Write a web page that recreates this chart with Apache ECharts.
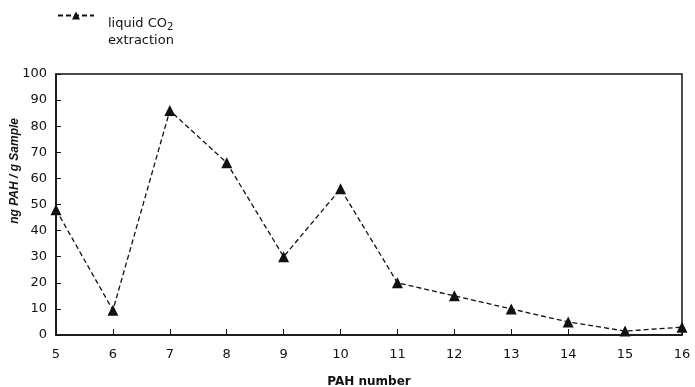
<!DOCTYPE html>
<html><head><meta charset="utf-8">
<script src="https://cdn.jsdelivr.net/npm/echarts@6/dist/echarts.min.js"></script>
<style>html,body{margin:0;padding:0;background:#fff}#c{width:695px;height:387px}</style>
</head><body><div id="c"></div>
<script>
const pahNumbers = [5, 6, 7, 8, 9, 10, 11, 12, 13, 14, 15, 16];
const liquidCO2 = [48, 9.5, 86, 66, 30, 56, 20, 15, 10, 5, 1.5, 3];
const yTicks = [0, 10, 20, 30, 40, 50, 60, 70, 80, 90, 100];

const font = '"DejaVu Sans", "Liberation Sans", Arial, sans-serif';
const font2 = '"Liberation Sans", Arial, sans-serif';
const chart = echarts.init(document.getElementById('c'));
chart.setOption({
  animation: false,
  backgroundColor: '#fff',
  grid: { left: 56, right: 13, top: 74, bottom: 52, containLabel: false, outerBoundsMode: 'none',
    show: true, borderColor: '#111', borderWidth: 1.5, backgroundColor: 'transparent' },
  legend: {
    left: 57, top: -18, padding: 0, itemWidth: 36, itemHeight: 10,
    data: ['liquid'],
    formatter: () => 'liquid CO{sub|2}\nextraction',
    textStyle: {
      fontFamily: font, fontSize: 13, color: '#111', lineHeight: 17, padding: [33, 0, 0, 9],
      rich: { sub: { fontSize: 10, verticalAlign: 'bottom', padding: [7, 0, 0, 0], lineHeight: 17, fontFamily: font, color: '#111' } }
    }
  },
  xAxis: {
    type: 'value', min: 5, max: 16, interval: 1,
    name: 'PAH number', nameLocation: 'middle', nameGap: 41,
    nameTextStyle: { fontFamily: font, fontSize: 12, fontWeight: 'bold', color: '#111' },
    axisLine: { lineStyle: { color: '#111', width: 1.5 } },
    axisTick: { inside: true, length: 6, lineStyle: { color: '#111' } },
    axisLabel: { fontFamily: font, fontSize: 13, color: '#111', margin: 13 },
    splitLine: { show: false }
  },
  yAxis: {
    type: 'value', min: 0, max: 100, interval: 10,
    axisLine: { show: true, lineStyle: { color: '#111', width: 1.5 } },
    axisTick: { show: true, inside: true, length: 5, lineStyle: { color: '#111' } },
    axisLabel: { fontFamily: font, fontSize: 13, color: '#111', margin: 9,
      formatter: v => yTicks.includes(v) ? String(v) : '' },
    splitLine: { show: false }
  },
  graphic: [{
    type: 'text', left: 9, top: 118, rotation: Math.PI / 2,
    style: { text: 'ng PAH / g Sample', font: 'italic bold 12px ' + font2, fill: '#111' }
  }],
  series: [{
    name: 'liquid', type: 'line',
    data: pahNumbers.map((x, i) => [x, liquidCO2[i]]),
    symbol: 'triangle', symbolSize: 11,
    itemStyle: { color: '#111' },
    lineStyle: { color: '#111', width: 1.3, type: [5, 3] }
  }]
});
</script></body></html>
